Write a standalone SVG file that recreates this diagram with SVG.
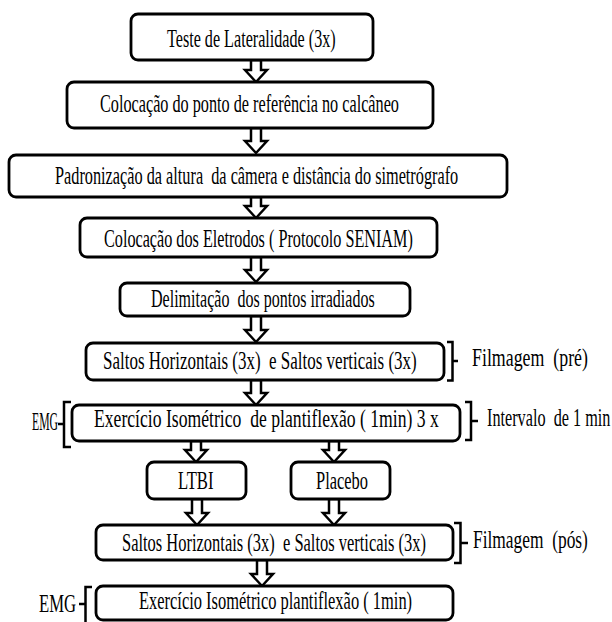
<svg xmlns="http://www.w3.org/2000/svg" width="612" height="622" viewBox="0 0 612 622">
<style>
.box{fill:#fff;stroke:#000;stroke-width:2.8}
.t{font-family:"Liberation Serif","Times New Roman","DejaVu Serif",serif;font-size:25px;fill:#000}
.arr{fill:#fff;stroke:#000;stroke-width:2.5;stroke-linejoin:miter}
.br{fill:none;stroke:#000;stroke-width:2.5}
</style>
<rect width="612" height="622" fill="#fff"/>
<g id="connectors">
<path class="arr" d="M251,60 V70 H245 L256,82 L267,70 H261 V60 Z"/>
<path class="arr" d="M251,128 V141 H245 L256,153 L267,141 H261 V128 Z"/>
<path class="arr" d="M251,197 V206 H245 L256,218 L267,206 H261 V197 Z"/>
<path class="arr" d="M251,257 V270 H245 L256,282 L267,270 H261 V257 Z"/>
<path class="arr" d="M251,316 V330 H245 L256,342 L267,330 H261 V316 Z"/>
<path class="arr" d="M251,380 V393 H245 L256,405 L267,393 H261 V380 Z"/>
<path class="arr" d="M191,441 V450 H185 L196,462 L207,450 H201 V441 Z"/>
<path class="arr" d="M329,441 V450 H323 L334,462 L345,450 H339 V441 Z"/>
<path class="arr" d="M192,499 V513 H186 L197,525 L208,513 H202 V499 Z"/>
<path class="arr" d="M329,499 V513 H323 L334,525 L345,513 H339 V499 Z"/>
<path class="arr" d="M257,560 V574 H251 L262,586 L273,574 H267 V560 Z"/>
</g>
<g id="n1"><rect class="box" x="131" y="14" width="242" height="46" rx="7"/><text class="t" font-family="Liberation Serif, serif" transform="translate(167,46.5) scale(0.646,1)">Teste de Lateralidade (3x)</text></g>
<g id="n2"><rect class="box" x="67" y="82" width="366" height="46" rx="7"/><text class="t" font-family="Liberation Serif, serif" transform="translate(100,112) scale(0.649,1)">Colocação do ponto de referência no calcâneo</text></g>
<g id="n3"><rect class="box" x="9" y="155" width="498" height="42" rx="7"/><text class="t" font-family="Liberation Serif, serif" transform="translate(55,183.5) scale(0.651,1)" xml:space="preserve">Padronização da altura  da câmera e distância do simetrógrafo</text></g>
<g id="n4"><rect class="box" x="80" y="218" width="357" height="39" rx="7"/><text class="t" font-family="Liberation Serif, serif" transform="translate(104,247) scale(0.648,1)">Colocação dos Eletrodos ( Protocolo SENIAM)</text></g>
<g id="n5"><rect class="box" x="120" y="283" width="290" height="33" rx="7"/><text class="t" font-family="Liberation Serif, serif" transform="translate(151,307) scale(0.642,1)" xml:space="preserve">Delimitação  dos pontos irradiados</text></g>
<g id="n6"><rect class="box" x="86" y="343" width="358" height="37" rx="7"/><text class="t" font-family="Liberation Serif, serif" transform="translate(103,369) scale(0.680,1)" xml:space="preserve">Saltos Horizontais (3x)  e Saltos verticais (3x)</text></g>
<g id="n7"><rect class="box" x="72" y="405" width="388" height="36" rx="7"/><text class="t" font-family="Liberation Serif, serif" transform="translate(94,427) scale(0.706,1)" xml:space="preserve">Exercício Isométrico  de plantiflexão ( 1min) 3 x</text></g>
<g id="n8"><rect class="box" x="147" y="462" width="99" height="37" rx="7"/><text class="t" font-family="Liberation Serif, serif" transform="translate(178,489) scale(0.666,1)">LTBI</text></g>
<g id="n9"><rect class="box" x="291" y="462" width="99" height="37" rx="7"/><text class="t" font-family="Liberation Serif, serif" transform="translate(316,489) scale(0.657,1)">Placebo</text></g>
<g id="n10"><rect class="box" x="96" y="525" width="357" height="35" rx="7"/><text class="t" font-family="Liberation Serif, serif" transform="translate(122,551) scale(0.659,1)" xml:space="preserve">Saltos Horizontais (3x)  e Saltos verticais (3x)</text></g>
<g id="n11"><rect class="box" x="96" y="586" width="357" height="34" rx="7"/><text class="t" font-family="Liberation Serif, serif" transform="translate(139,609) scale(0.658,1)">Exercício Isométrico plantiflexão ( 1min)</text></g>
<g id="b1"><path class="br" d="M447,342 H452.5 V380.5 H447 M452.5,361 H458"/><text class="t" font-family="Liberation Serif, serif" transform="translate(472,366) scale(0.714,1)" xml:space="preserve">Filmagem  (pré)</text></g>
<g id="b2"><path class="br" d="M465,402 H471 V440 H465 M471,421 H478"/><text class="t" font-family="Liberation Serif, serif" transform="translate(487,426) scale(0.649,1)" xml:space="preserve">Intervalo  de 1 min</text></g>
<g id="b3"><path class="br" d="M454,523 H460.5 V563 H454 M460.5,543 H468"/><text class="t" font-family="Liberation Serif, serif" transform="translate(473,548) scale(0.696,1)" xml:space="preserve">Filmagem  (pós)</text></g>
<g id="b4"><path class="br" d="M71,402 H64 V447 H71 M64,424 H58"/><text class="t" font-family="Liberation Serif, serif" transform="translate(32,430) scale(0.47,1)">EMG</text></g>
<g id="b5"><path class="br" d="M92,587 H85.5 V622 M85.5,604 H79"/><text class="t" font-family="Liberation Serif, serif" transform="translate(39,612) scale(0.667,1)">EMG</text></g>
</svg>
